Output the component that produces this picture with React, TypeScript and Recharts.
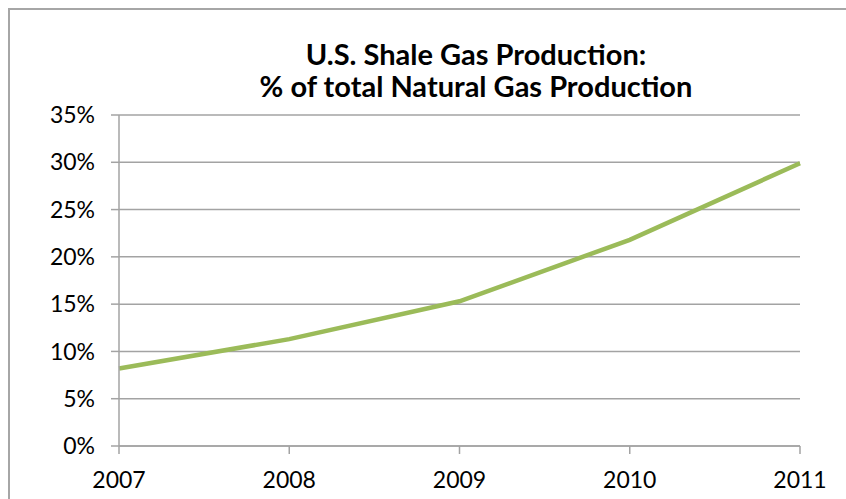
import { LineChart, Line, XAxis, YAxis, CartesianGrid } from 'recharts';

const years = ['2007', '2008', '2009', '2010', '2011'];
const shareOfTotal = [0.082, 0.113, 0.153, 0.218, 0.299];
const yTicks = [0, 0.05, 0.1, 0.15, 0.2, 0.25, 0.3, 0.35];

const titleLines = ['U.S. Shale Gas Production:', '% of total Natural Gas Production'];

const FONT = 'Lato, "Open Sans", sans-serif';
const GRID = '#a3a3a3';

export default function App() {
  const chartData = years.map((y, i) => ({ year: y, share: shareOfTotal[i] }));

  return (
    <div style={{ position: 'absolute', left: 0, top: 0, width: 846, height: 499, overflow: 'hidden', background: '#fff' }}>
      {/* outer chart frame, right and bottom edges fall outside the crop */}
      <div
        style={{
          position: 'absolute',
          left: 8,
          top: 8,
          width: 900,
          height: 600,
          border: '2px solid #a6a6a6',
        }}
      />
      <div
        style={{
          position: 'absolute',
          left: 0,
          top: 38,
          width: 952,
          textAlign: 'center',
          fontFamily: FONT,
          fontWeight: 700,
          fontSize: 29,
          lineHeight: '32px',
          color: '#000',
        }}
      >
        {titleLines.map(t => (
          <div key={t}>{t}</div>
        ))}
      </div>
      <LineChart
        width={846}
        height={499}
        data={chartData}
        margin={{ top: 115, right: 46, bottom: 0, left: 0 }}
        style={{ position: 'absolute', left: 0, top: 0 }}
      >
        <CartesianGrid vertical={false} stroke={GRID} strokeWidth={1.5} />
        <XAxis
          dataKey="year"
          height={53}
          stroke={GRID}
          strokeWidth={1.5}
          tickSize={8}
          tickMargin={18}
          tick={{ fill: '#000', fontSize: 23, fontFamily: FONT }}
        />
        <YAxis
          width={119}
          domain={[0, 0.35]}
          ticks={yTicks}
          interval={0}
          stroke={GRID}
          strokeWidth={1.5}
          tickSize={8}
          tickMargin={16}
          tickFormatter={v => `${Math.round(v * 100)}%`}
          tick={{ fill: '#000', fontSize: 23, fontFamily: FONT }}
        />
        <Line
          type="linear"
          dataKey="share"
          stroke="#9bbb59"
          strokeWidth={4.5}
          dot={false}
          isAnimationActive={false}
        />
      </LineChart>
    </div>
  );
}
